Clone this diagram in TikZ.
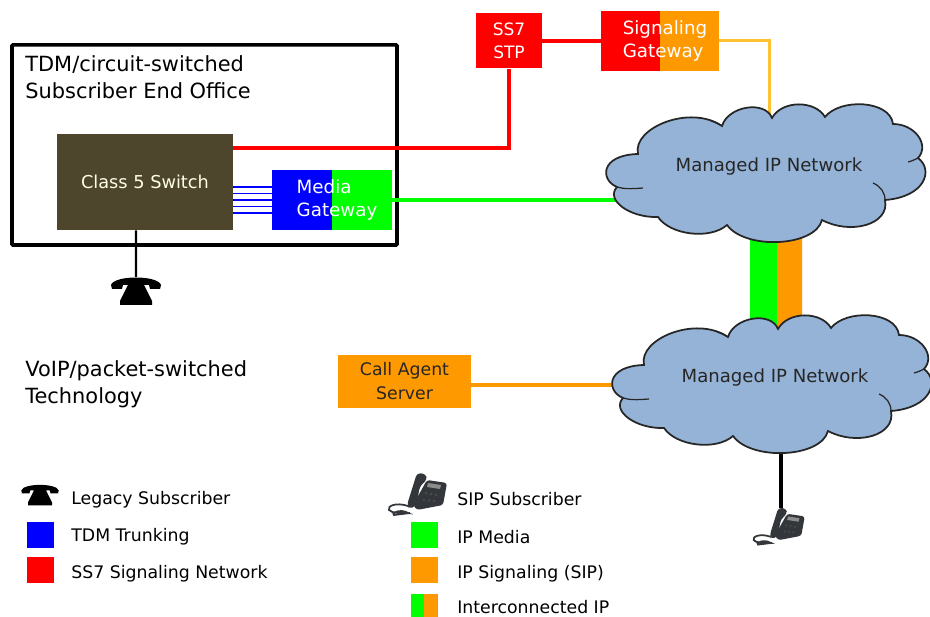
\documentclass[tikz,border=0pt]{standalone}
\usepackage{fontspec}
\setmainfont{DejaVu Sans}
\usetikzlibrary{calc}
\usetikzlibrary{backgrounds}
\definecolor{sigorange}{HTML}{FF9900}
\definecolor{sigyellow}{HTML}{FFC233}
\definecolor{switchbrown}{HTML}{4D452C}
\definecolor{cloudblue}{HTML}{95B3D7}
\definecolor{phonegray}{HTML}{33363A}
\tikzset{
	box/.style={inner sep=0pt,minimum width=#1},
	whitetxt/.style={text=white,align=left,font=\fontsize{10.4}{13.6}\selectfont},
	blacktxt/.style={align=left,font=\fontsize{11.9}{15.4}\selectfont,anchor=west,inner sep=0pt},
	legendtxt/.style={anchor=west,inner sep=0pt,font=\fontsize{9.85}{11}\selectfont,text=black},
	splitbox/.style 2 args={fill=#1,path picture={\fill[#2] (path picture bounding box.north) rectangle (path picture bounding box.south east);}},
	swatch/.style={inner sep=0pt,minimum width=.54cm,minimum height=.52cm},
	pics/ipcloud/.style={code={
		\draw[fill=cloudblue,draw=black!85,line width=1pt] (638,154)
			.. controls (632,128) and (690,104) .. (722,126)
			.. controls (728,106) and (765,100) .. (772,118)
			.. controls (782,100) and (815,100) .. (825,117)
			.. controls (840,98) and (890,100) .. (893,124)
			.. controls (915,124) and (930,145) .. (918,158)
			.. controls (934,170) and (925,197) .. (885,200)
			.. controls (890,225) and (850,235) .. (822,220)
			.. controls (815,247) and (745,250) .. (727,225)
			.. controls (710,240) and (670,235) .. (658,217)
			.. controls (630,218) and (605,200) .. (617,187)
			.. controls (600,180) and (600,155) .. (638,154) -- cycle;
		% the small inner folds of the cloud
		\draw[draw=black!85,line width=.7pt] (617,187) .. controls (624,189) and (630,189) .. (643,188)
			(885,200) .. controls (885,192) and (880,186) .. (873,183)
			(918,158) .. controls (914,160) and (912,161) .. (908,162)
			(722,126) .. controls (718,124) and (715,122) .. (711,121);
		\node[font=\fontsize{10.3}{12}\selectfont,text=black!85,inner sep=0pt] (-net) at (769,167) {Managed IP Network};
	}},
	pics/deskphone/.style={code={
		\fill[black] (-25,-6) .. controls (-22,-16) and (22,-16) .. (25,-6) -- (24,-2) -- (14,-2) -- (13,-6)
			-- (8,-6) -- (16,10) -- (16,14) -- (-16,14) -- (-16,10) -- (-8,-6) -- (-13,-6) -- (-14,-2) -- (-24,-2) -- cycle;
		\coordinate (-top) at (0,-14);
	}},
	pics/ipphone/.style={code={
		\fill[phonegray,rounded corners=1.5pt] (7,-15) -- (27,-12) -- (23,10) -- (-3,15) -- (-7,10) -- cycle;
		\fill[black!45] (8,-12) -- (21,-10) -- (20,-6) -- (7,-8) -- cycle;
		\foreach \i in {0,1,2} {\fill[black!70] (6+\i*5,-2+\i) circle (1.3);\fill[black!70] (4+\i*5,5+\i*.5) circle (1.3);}
		\fill[phonegray,rounded corners=2pt] (-3,-22) -- (6,-21) -- (7,-15) -- (0,-9) -- (-4,11) -- (-11,14) -- (-13,10) -- cycle;
		\draw[phonegray,line width=1pt] (-12,11) .. controls (-24,7) and (-33,11) .. (-31,15) .. controls (-28,19) and (-18,17) .. (-12,18) .. controls (-20,13) and (-30,19) .. (-26,20) -- (-10,18);
		\coordinate (-top) at (0,-22);
	}},
}
\begin{document}
\begin{tikzpicture}[x=.02cm,y=-.02cm]
		\useasboundingbox (0,0) rectangle (930,617);
		\node[box=176*.02cm,minimum height=96*.02cm,fill=switchbrown,text=white!90!yellow,font=\fontsize{10.1}{12}\selectfont] (switch) at (145,182) {Class 5 Switch};
		\node[box=120*.02cm,minimum height=60*.02cm,splitbox={blue}{green},whitetxt] (mediagw) at (332,200) {\hspace*{.2cm}Media\\\hspace*{.2cm}Gateway};
		\node[box=66*.02cm,minimum height=55*.02cm,fill=red,text=white,align=center,font=\fontsize{9.7}{13.1}\selectfont] (stp) at (509,41) {SS7\\STP};
		\node[box=118*.02cm,minimum height=60*.02cm,splitbox={red}{sigorange},whitetxt] (siggw) at (660,41) {\hspace*{.2cm}Signaling\\\hspace*{.2cm}Gateway};
		\node[box=133*.02cm,minimum height=53*.02cm,fill=sigorange,text=black!85,align=center,font=\fontsize{9.85}{13.6}\selectfont] (callagent) at (404.5,381.5) {Call Agent\\Server};
		\pic (ipa) at (0,0) {ipcloud};
		\pic[shift={(6,211)}] (ipb) {ipcloud};
		\pic (legacy) at (136,291) {deskphone};
		\pic[scale=.88] (sip) at (781,527) {ipphone};
		% titles
		\node[blacktxt] (office) at (25,77.5) {TDM/circuit-switched\\Subscriber End Office};
		\node[blacktxt] (tech) at (25,384) {VoIP/packet-switched\\Technology};
		% legend, left column
		\pic[scale=.75] (leglegacy) at (40,495) {deskphone};
		\node[swatch,fill=blue] (swtdm) at (40.5,535) {};
		\node[swatch,fill=red] (swss) at (40.5,570) {};
		\node[legendtxt] (txlegacy) at (71,500) {Legacy Subscriber};
		\node[legendtxt] (txtdm) at (71,537) {TDM Trunking};
		\node[legendtxt] (txss) at (71,574) {SS7 Signaling Network};
		% legend, right column
		\pic (legsip) at (420,495) {ipphone};
		\node[swatch,fill=green] (swmedia) at (424,535) {};
		\node[swatch,fill=sigorange] (swsig) at (424,570) {};
		\node[swatch,splitbox={green}{sigorange},minimum height=23*.02cm] (swboth) at (424,605.5) {};
		\node[legendtxt] (txsip) at (457,499) {SIP Subscriber};
		\node[legendtxt] (txmedia) at (457,537) {IP Media};
		\node[legendtxt] (txsig) at (457,574) {IP Signaling (SIP)};
		\node[legendtxt] (txboth) at (457,607) {Interconnected IP};
		\begin{scope}[on background layer]
			\node[draw,line width=2pt,rounded corners=.5pt,minimum width=385*.02cm,minimum height=200*.02cm] (officebox) at (204.5,145) {};
			\foreach \i in {-2,-1,0,1,2}
				\draw[blue,line width=.9pt] ([yshift=\i*.13cm]mediagw.west -| switch.east) -- ([yshift=\i*.13cm]mediagw.west);
			\draw[red,line width=2pt] ([yshift=.68cm]switch.east) -| (stp.south);
			\draw[red,line width=2pt] (stp.east) -- (siggw.west);
			\draw[sigyellow,line width=1.7pt] (siggw.east) -| (ipa-net.north);
			\draw[green,line width=2pt] (mediagw.east) -- (mediagw.east -| ipa-net.west);
			\draw[sigorange,line width=1.8pt] ([yshift=-.07cm]callagent.east) -- ([yshift=-.07cm]callagent.east -| ipb-net.west);
			\draw[black,line width=1.4pt] ([xshift=-.18cm]switch.south) -- (legacy-top);
			\draw[black,line width=2pt] (sip-top) -- (sip-top |- ipb-net.south);
			\draw[green,line width=.54cm] ([xshift=-.11cm]ipa-net.south) -- ([xshift=-.23cm]ipb-net.north);
			\draw[sigorange,line width=.5cm] ([xshift=.41cm]ipa-net.south) -- ([xshift=.29cm]ipb-net.north);
		\end{scope}
	\end{tikzpicture}
\end{document}
